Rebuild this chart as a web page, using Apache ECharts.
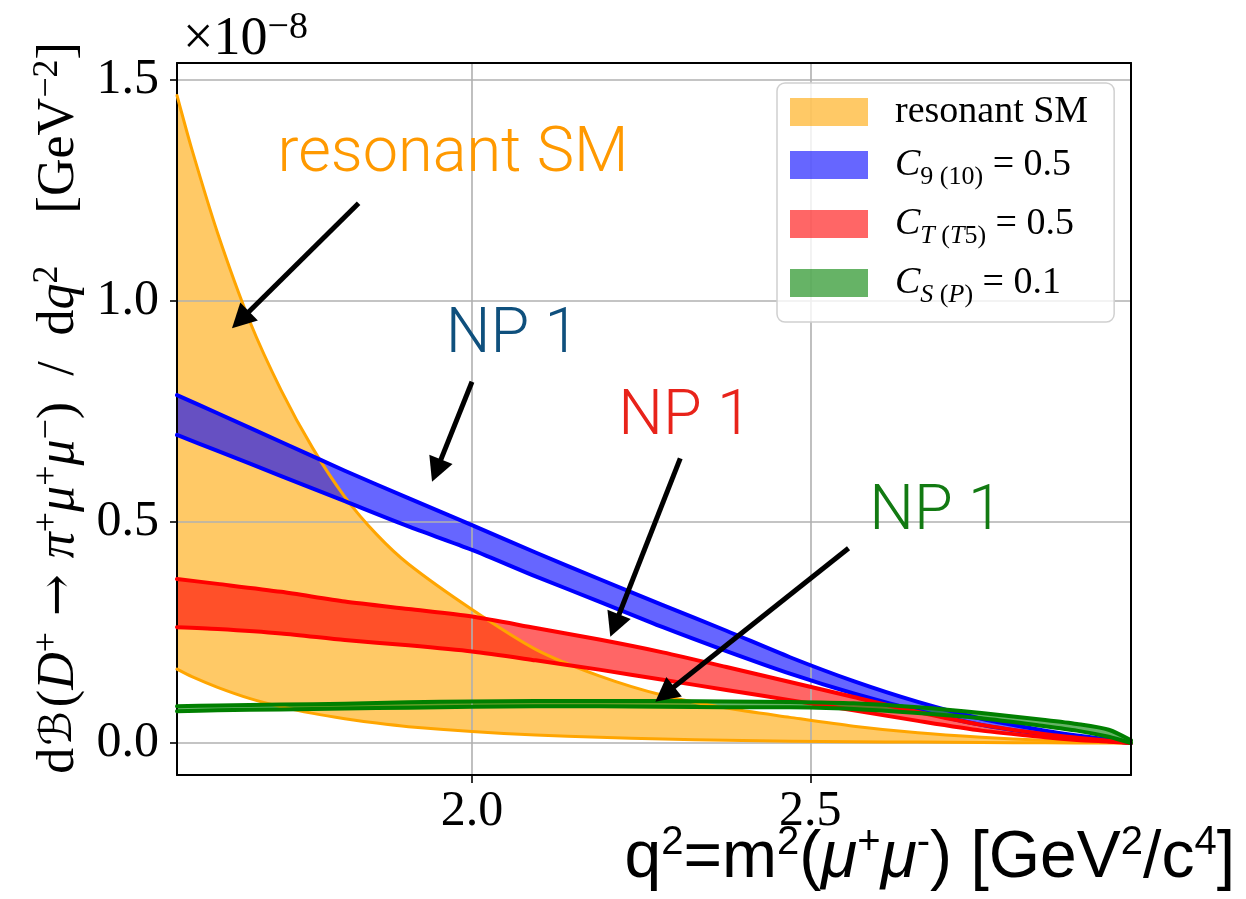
<!DOCTYPE html>
<html>
<head>
<meta charset="utf-8">
<script src="https://cdn.jsdelivr.net/npm/echarts@6/dist/echarts.min.js"></script>
<style>
html,body{margin:0;padding:0;background:#fff;}
#chart{width:1246px;height:899px;}
</style>
</head>
<body>
<div id="chart"></div>
<script>
// ---------- data (values in units of 1e-8 GeV^-2) ----------
const xOrange = [1.564, 1.586, 1.624, 1.671, 1.718, 1.765, 1.812, 1.859, 1.906, 2.0, 2.094, 2.188, 2.282, 2.376, 2.470, 2.564, 2.659, 2.753, 2.847, 2.941, 2.974];
const orangeUpper = [1.465, 1.343, 1.154, 0.956, 0.798, 0.666, 0.557, 0.472, 0.405, 0.302, 0.212, 0.152, 0.108, 0.079, 0.058, 0.038, 0.023, 0.013, 0.006, 0.0015, 0.0];
const orangeLower = [0.167, 0.150, 0.126, 0.101, 0.082, 0.067, 0.055, 0.045, 0.037, 0.026, 0.018, 0.013, 0.009, 0.006, 0.004, 0.003, 0.002, 0.001, 0.0005, 0.0, 0.0];

const xNP = [1.564, 1.624, 1.718, 1.812, 1.906, 2.0, 2.094, 2.188, 2.282, 2.376, 2.470, 2.564, 2.659, 2.753, 2.847, 2.894, 2.941, 2.974];
const blueUpper  = [0.787, 0.746, 0.681, 0.616, 0.554, 0.493, 0.431, 0.371, 0.312, 0.254, 0.194, 0.140, 0.093, 0.055, 0.028, 0.017, 0.008, 0.0];
const blueLower  = [0.697, 0.661, 0.604, 0.547, 0.490, 0.437, 0.377, 0.320, 0.262, 0.208, 0.157, 0.112, 0.073, 0.041, 0.019, 0.011, 0.005, 0.0];
const redUpper   = [0.371, 0.360, 0.342, 0.320, 0.303, 0.286, 0.260, 0.234, 0.205, 0.172, 0.138, 0.104, 0.070, 0.041, 0.020, 0.012, 0.005, 0.0];
const redLower   = [0.262, 0.258, 0.248, 0.233, 0.221, 0.207, 0.187, 0.166, 0.143, 0.120, 0.097, 0.074, 0.050, 0.028, 0.013, 0.007, 0.003, 0.0];
const greenUpper = [0.083, 0.085, 0.087, 0.089, 0.092, 0.094, 0.095, 0.095, 0.095, 0.094, 0.093, 0.090, 0.081, 0.068, 0.052, 0.043, 0.030, 0.006];
const greenLower = [0.072, 0.074, 0.076, 0.078, 0.080, 0.082, 0.083, 0.083, 0.082, 0.081, 0.081, 0.077, 0.068, 0.056, 0.038, 0.028, 0.014, 0.0];

const xTicks = [2.0, 2.5];
const yTicks = [0.0, 0.5, 1.0, 1.5];
const xRange = [1.564, 2.974];
const yRange = [-0.0724, 1.5385];

const bandNames = ['resonant SM', 'C9(10) = 0.5', 'CT(T5) = 0.5', 'CS(P) = 0.1'];
const bandLabels = [
  '{n|resonant SM}',
  '{i|C}{s|9 (10)}{n| = 0.5}',
  '{i|C}{si|T}{s| (}{si|T}{s|5)}{n| = 0.5}',
  '{i|C}{si|S}{s| (}{si|P}{s|)}{n| = 0.1}'
];

const annotTexts = ['resonant SM', 'NP 1', 'NP 1', 'NP 1'];
const annotColors = ['#ff9900', '#0f507d', '#e8231a', '#127a12'];
const annotTextPos = [[1.972, 1.330], [2.060, 0.921], [2.315, 0.735], [2.686, 0.520]];
const arrowTail = [[1.8324, 1.2210], [2.0, 0.8174], [2.3078, 0.6441], [2.5565, 0.4405]];
const arrowHead = [[1.6579, 0.9572], [1.9475, 0.6163], [2.2109, 0.2658], [2.2848, 0.1104]];

// ---------- build ----------
const serif = 'Liberation Serif, DejaVu Serif, serif';
const sans = 'Liberation Sans, Arial, sans-serif';
const SMOOTH = 0.25;

// Fill: rows [value, x] with encode {x:1, y:0} so stacking acts on the y value.
function bandFill(name, xs, lo, hi, fill) {
  const common = {
    type: 'line', stack: name, symbol: 'none', showSymbol: false, silent: true,
    smooth: SMOOTH, clip: true, encode: { x: 1, y: 0 }, z: 2,
    lineStyle: { width: 0, opacity: 0 }, itemStyle: { color: fill }
  };
  return [
    Object.assign({}, common, { name: name + ' (fill base)', data: xs.map((x, i) => [lo[i], x]) }),
    Object.assign({}, common, {
      name: name, data: xs.map((x, i) => [hi[i] - lo[i], x]),
      areaStyle: { color: fill, opacity: 1 }
    })
  ];
}
function bandEdges(name, xs, lo, hi, line, lw) {
  const common = {
    type: 'line', symbol: 'none', showSymbol: false, silent: true,
    smooth: SMOOTH, clip: true, z: 4,
    lineStyle: { color: line, width: lw, opacity: 1, cap: 'round', join: 'round' }, itemStyle: { color: line }
  };
  return [
    Object.assign({}, common, { name: name + ' (lower edge)', data: xs.map((x, i) => [x, lo[i]]) }),
    Object.assign({}, common, { name: name + ' (upper edge)', data: xs.map((x, i) => [x, hi[i]]) })
  ];
}

const series = [].concat(
  bandFill(bandNames[0], xOrange, orangeLower, orangeUpper, 'rgba(255,165,0,0.6)'),
  bandEdges(bandNames[0], xOrange, orangeLower, orangeUpper, '#ffa500', 3),
  bandFill(bandNames[1], xNP, blueLower, blueUpper, 'rgba(0,0,255,0.6)'),
  bandEdges(bandNames[1], xNP, blueLower, blueUpper, '#0000ff', 4),
  bandFill(bandNames[2], xNP, redLower, redUpper, 'rgba(255,0,0,0.6)'),
  bandEdges(bandNames[2], xNP, redLower, redUpper, '#ff0000', 4),
  bandFill(bandNames[3], xNP, greenLower, greenUpper, 'rgba(0,128,0,0.6)'),
  bandEdges(bandNames[3], xNP, greenLower, greenUpper, '#008000', 4)
);

series.push({
  type: 'line', name: 'annotations', data: [], silent: true, z: 10,
  markLine: {
    silent: true, symbol: ['none', 'triangle'], symbolSize: [25, 24],
    label: { show: false },
    lineStyle: { color: '#000', width: 5, type: 'solid' },
    data: arrowTail.map((t, i) => [{ coord: t }, { coord: arrowHead[i] }])
  },
  markPoint: {
    silent: true, symbol: 'circle', symbolSize: 1,
    itemStyle: { color: 'rgba(0,0,0,0)' },
    data: annotTexts.map((t, i) => ({
      name: t, coord: annotTextPos[i],
      label: {
        show: true, position: 'inside', formatter: '{b}',
        color: annotColors[i], fontSize: 63, fontFamily: 'Roboto, Liberation Sans, sans-serif', fontWeight: 300
      }
    }))
  }
});

const legendFills = ['rgba(255,165,0,0.6)', 'rgba(0,0,255,0.6)', 'rgba(255,0,0,0.6)', 'rgba(0,128,0,0.6)'];

const chart = echarts.init(document.getElementById('chart'), null, { renderer: 'canvas' });
chart.setOption({
  animation: false,
  backgroundColor: '#fff',
  grid: { left: 177, right: 115, top: 63, bottom: 124, containLabel: false, outerBoundsMode: 'none' },
  xAxis: [{
    type: 'value', min: xRange[0], max: xRange[1], z: 3,
    axisLine: { show: true, onZero: false, lineStyle: { color: '#000', width: 2 } },
    axisTick: { show: true, customValues: xTicks, length: 8, lineStyle: { color: '#000', width: 1.6 } },
    axisLabel: { customValues: xTicks, formatter: v => v.toFixed(1), color: '#000', fontFamily: serif, fontSize: 50, margin: 12 },
    splitLine: { show: true, lineStyle: { color: '#b0b0b0', width: 1.6 } }
  }, {
    type: 'value', min: xRange[0], max: xRange[1], position: 'top', z: 5,
    axisLine: { show: true, onZero: false, lineStyle: { color: '#000', width: 2 } },
    axisTick: { show: false }, axisLabel: { show: false }, splitLine: { show: false }
  }],
  yAxis: [{
    type: 'value', min: yRange[0], max: yRange[1], z: 3,
    axisLine: { show: true, onZero: false, lineStyle: { color: '#000', width: 2 } },
    axisTick: { show: true, customValues: yTicks, length: 7, lineStyle: { color: '#000', width: 1.6 } },
    axisLabel: { customValues: yTicks, formatter: v => v.toFixed(1), color: '#000', fontFamily: serif, fontSize: 50, margin: 18 },
    splitLine: { show: true, lineStyle: { color: '#b0b0b0', width: 1.6 } },
    name: '{n|d}{c|ℬ}{n|(}{i|D}{p|+}{a| → }{i|π}{p|+}{i|μ}{p|+}{i|μ}{p|−}{n|)  /  d}{i|q}{p|2}{n|    [GeV}{p|−2}{n|]}',
    nameLocation: 'middle', nameGap: 87,
    nameTextStyle: {
      color: '#000', padding: [0, 0, 0, 22],
      rich: {
        n: { fontFamily: serif, fontSize: 52, lineHeight: 60, color: '#000' },
        i: { fontFamily: serif, fontSize: 52, lineHeight: 60, fontStyle: 'italic', color: '#000' },
        a: { fontFamily: 'DejaVu Serif, serif', fontSize: 50, lineHeight: 60, color: '#000' },
        c: { fontFamily: 'DejaVu Sans, sans-serif', fontSize: 44, lineHeight: 60, color: '#000', padding: [0, 4, 0, 2] },
        p: { fontFamily: serif, fontSize: 36, lineHeight: 30, verticalAlign: 'top', color: '#000' }
      }
    }
  }, {
    type: 'value', min: yRange[0], max: yRange[1], position: 'right', z: 5,
    axisLine: { show: true, onZero: false, lineStyle: { color: '#000', width: 2 } },
    axisTick: { show: false }, axisLabel: { show: false }, splitLine: { show: false }
  }],
  legend: {
    orient: 'vertical', left: 777, top: 83,
    padding: [10, 26, 14, 13], itemGap: 15,
    itemWidth: 78, itemHeight: 28, icon: 'rect',
    backgroundColor: 'rgba(255,255,255,0.8)', borderColor: '#d0d0d0', borderWidth: 1.5, borderRadius: 8,
    selectedMode: false, z: 8,
    data: bandNames.map((n, i) => ({ name: n, itemStyle: { color: legendFills[i] } })),
    formatter: name => bandLabels[bandNames.indexOf(name)],
    textStyle: {
      padding: [0, 0, 0, 22], color: '#000',
      rich: {
        n: { fontFamily: serif, fontSize: 38, lineHeight: 50, color: '#000' },
        i: { fontFamily: serif, fontSize: 38, lineHeight: 50, fontStyle: 'italic', color: '#000' },
        s: { fontFamily: serif, fontSize: 26, lineHeight: 30, verticalAlign: 'bottom', color: '#000' },
        si: { fontFamily: serif, fontSize: 26, lineHeight: 30, verticalAlign: 'bottom', fontStyle: 'italic', color: '#000' }
      }
    }
  },
  graphic: [{
    type: 'text', left: 183, top: 9, silent: true,
    style: {
      text: '{n|×10}{p|−8}',
      rich: {
        n: { fontFamily: serif, fontSize: 54, lineHeight: 62, fill: '#000' },
        p: { fontFamily: serif, fontSize: 38, lineHeight: 30, verticalAlign: 'top', fill: '#000' }
      }
    }
  }, {
    type: 'text', right: 11, top: 823, silent: true,
    style: {
      text: '{n|q}{p|2}{n|=m}{p|2}{n|(}{i|μ}{p|+}{i|μ}{p|-}{n|) [GeV}{p|2}{n|/c}{p|4}{n|]}',
      rich: {
        n: { fontFamily: sans, fontSize: 66, lineHeight: 72, fill: '#000' },
        i: { fontFamily: sans, fontSize: 66, lineHeight: 72, fontStyle: 'italic', fill: '#000' },
        p: { fontFamily: sans, fontSize: 40, lineHeight: 38, verticalAlign: 'top', fill: '#000' }
      }
    }
  }],
  series: series
});
</script>
</body>
</html>
